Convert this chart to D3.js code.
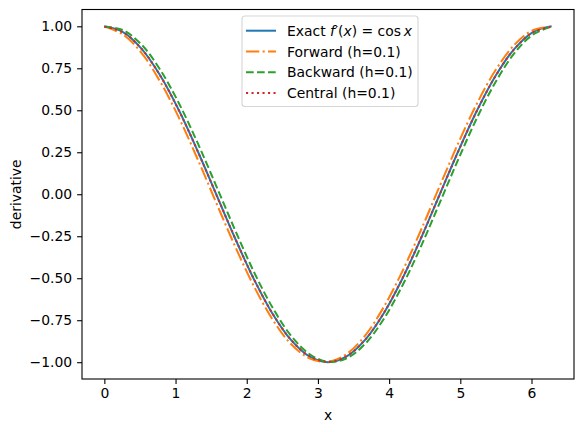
<!DOCTYPE html>
<html>
<head>
<meta charset="utf-8">
<script src="https://cdn.jsdelivr.net/npm/d3@7"></script>
<style>
  body { margin: 0; background: #fff; }
  text { font-family: "DejaVu Sans", sans-serif; }
</style>
</head>
<body>
<div id="chart"></div>
<script>
// sample points, 15 degree steps from 0 to 2*pi
var xs = [0, 0.262, 0.524, 0.785, 1.047, 1.309, 1.571, 1.833, 2.094, 2.356, 2.618, 2.880,
  3.142, 3.403, 3.665, 3.927, 4.189, 4.451, 4.712, 4.974, 5.236, 5.498, 5.760, 6.021, 6.283];

var exact = [1, 0.966, 0.866, 0.707, 0.5, 0.259, 0, -0.259, -0.5, -0.707, -0.866, -0.966,
  -1, -0.966, -0.866, -0.707, -0.5, -0.259, 0, 0.259, 0.5, 0.707, 0.866, 0.966, 1];

var forward = [0.998, 0.951, 0.840, 0.670, 0.456, 0.210, -0.050, -0.307, -0.542, -0.741, -0.890, -0.977,
  -0.998, -0.951, -0.840, -0.670, -0.456, -0.210, 0.050, 0.307, 0.542, 0.741, 0.890, 0.977, 0.998];

var backward = [0.998, 0.977, 0.890, 0.741, 0.542, 0.307, 0.050, -0.210, -0.456, -0.670, -0.840, -0.951,
  -0.998, -0.977, -0.890, -0.741, -0.542, -0.307, -0.050, 0.210, 0.456, 0.670, 0.840, 0.951, 0.998];

var central = [0.998, 0.964, 0.865, 0.706, 0.499, 0.258, 0, -0.258, -0.499, -0.706, -0.865, -0.964,
  -0.998, -0.964, -0.865, -0.706, -0.499, -0.258, 0, 0.258, 0.499, 0.706, 0.865, 0.964, 0.998];

var xTicks = [0, 1, 2, 3, 4, 5, 6];
var yTicks = [-1, -0.75, -0.5, -0.25, 0, 0.25, 0.5, 0.75, 1];

var series = [
  {name: "exact",    values: exact,    color: "#1f77b4", dash: null},
  {name: "forward",  values: forward,  color: "#ff7f0e", dash: "13.3,3.3,2.1,3.3"},
  {name: "backward", values: backward, color: "#2ca02c", dash: "7.7,3.3"},
  {name: "central",  values: central,  color: "#d62728", dash: "2.1,3.4"}
];

var W = 587, H = 432;
var box = {left: 82, right: 574, top: 9.5, bottom: 379};
var fs = "13.9px", lw = 2;

var svg = d3.select("#chart").append("svg").attr("width", W).attr("height", H);

var x = d3.scaleLinear().domain([-0.314, 6.597]).range([box.left, box.right]);
var y = d3.scaleLinear().domain([-1.1, 1.1]).range([box.bottom, box.top]);

var plot = svg.append("g");
plot.append("clipPath").attr("id", "clip").append("rect")
  .attr("x", box.left).attr("y", box.top)
  .attr("width", box.right - box.left).attr("height", box.bottom - box.top);

var line = d3.line()
  .x(function (d) { return x(d[0]); })
  .y(function (d) { return y(d[1]); })
  .curve(d3.curveCatmullRom.alpha(0.5));

series.forEach(function (s) {
  var pts = xs.map(function (v, i) { return [v, s.values[i]]; });
  plot.append("path")
    .attr("d", line(pts))
    .attr("fill", "none")
    .attr("stroke", s.color)
    .attr("stroke-width", lw)
    .attr("stroke-dasharray", s.dash)
    .attr("clip-path", "url(#clip)");
});

// axes
var xAxis = svg.append("g").attr("transform", "translate(0," + box.bottom + ")")
  .call(d3.axisBottom(x).tickValues(xTicks).tickFormat(d3.format("d")).tickSize(4.9).tickPadding(4.5));
var yAxis = svg.append("g").attr("transform", "translate(" + box.left + ",0)")
  .call(d3.axisLeft(y).tickValues(yTicks).tickFormat(d3.format(".2f")).tickSize(4.9).tickPadding(5));

[xAxis, yAxis].forEach(function (a) {
  a.select(".domain").remove();
  a.selectAll("text").attr("font-size", fs).attr("fill", "#000")
    .style("font-family", "'DejaVu Sans', sans-serif");
  a.selectAll("line").attr("stroke", "#000").attr("stroke-width", 1.1);
});
// minus signs like matplotlib
yAxis.selectAll("text").text(function (d) { return d3.format(".2f")(d).replace("-", "\u2212"); });

svg.append("rect")
  .attr("x", box.left).attr("y", box.top)
  .attr("width", box.right - box.left).attr("height", box.bottom - box.top)
  .attr("fill", "none").attr("stroke", "#000").attr("stroke-width", 1.1);

svg.append("text")
  .attr("x", (box.left + box.right) / 2).attr("y", 420)
  .attr("text-anchor", "middle").attr("font-size", fs)
  .text("x");

svg.append("text")
  .attr("transform", "translate(21," + ((box.top + box.bottom) / 2) + ") rotate(-90)")
  .attr("text-anchor", "middle").attr("font-size", fs)
  .text("derivative");

// legend
var lg = svg.append("g");
lg.append("rect")
  .attr("x", 242).attr("y", 16).attr("width", 176).attr("height", 90.5).attr("rx", 3)
  .attr("fill", "#fff").attr("fill-opacity", 0.8)
  .attr("stroke", "#d6d6d6").attr("stroke-width", 1.1);

var labels = [
  null,
  "Forward (h=0.1)",
  "Backward (h=0.1)",
  "Central (h=0.1)"
];

series.forEach(function (s, i) {
  var ly = 30.7 + i * 20.8;
  lg.append("line")
    .attr("x1", 246).attr("x2", 276).attr("y1", ly).attr("y2", ly)
    .attr("stroke", s.color).attr("stroke-width", lw)
    .attr("stroke-dasharray", s.dash);
  var t = lg.append("text")
    .attr("x", 287).attr("y", ly + 5).attr("font-size", fs);
  if (i === 0) {
    t.append("tspan").text("Exact ");
    t.append("tspan").attr("font-style", "italic").text("f");
    t.append("tspan").text("\u2032(");
    t.append("tspan").attr("font-style", "italic").text("x");
    t.append("tspan").text(") = cos\u2009");
    t.append("tspan").attr("font-style", "italic").text("x");
  } else {
    t.text(labels[i]);
  }
});
</script>
</body>
</html>
